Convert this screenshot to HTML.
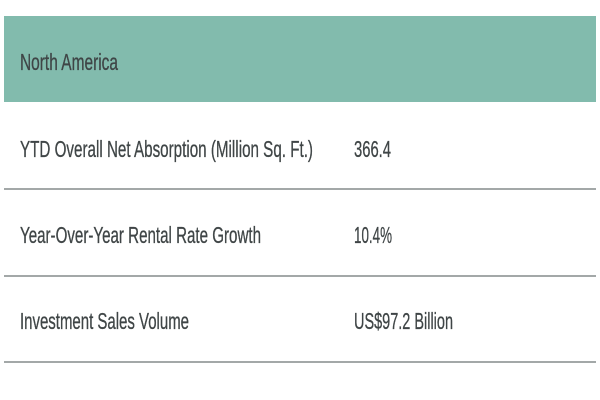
<!DOCTYPE html>
<html><head><meta charset="utf-8"><style>html,body{margin:0;padding:0;background:#fff;width:600px;height:400px;overflow:hidden}</style></head>
<body>
<svg width="600" height="400" xmlns="http://www.w3.org/2000/svg" style="display:block">
<rect x="0" y="0" width="600" height="400" fill="#fff"/>
<rect x="4" y="16" width="592" height="86" fill="#82bbad"/>
<g fill="#3f4546" font-family="Liberation Sans, sans-serif" font-size="23" stroke="#3f4546" stroke-width="0.3">
<text x="20" y="70" textLength="98" lengthAdjust="spacingAndGlyphs">North America</text>
<text x="20" y="157" textLength="293" lengthAdjust="spacingAndGlyphs">YTD Overall Net Absorption (Million Sq. Ft.)</text>
<text x="354" y="157" textLength="37" lengthAdjust="spacingAndGlyphs">366.4</text>
<text x="20" y="243" textLength="241" lengthAdjust="spacingAndGlyphs">Year-Over-Year Rental Rate Growth</text>
<text x="354" y="243" textLength="38" lengthAdjust="spacingAndGlyphs">10.4%</text>
<text x="20" y="329" textLength="169" lengthAdjust="spacingAndGlyphs">Investment Sales Volume</text>
<text x="354" y="329" textLength="99" lengthAdjust="spacingAndGlyphs">US$97.2 Billion</text>
</g>
<rect x="4" y="188" width="592" height="2" fill="#a3a8a8"/>
<rect x="4" y="275" width="592" height="2" fill="#a3a8a8"/>
<rect x="4" y="361" width="592" height="2" fill="#a3a8a8"/>
</svg>
</body></html>
